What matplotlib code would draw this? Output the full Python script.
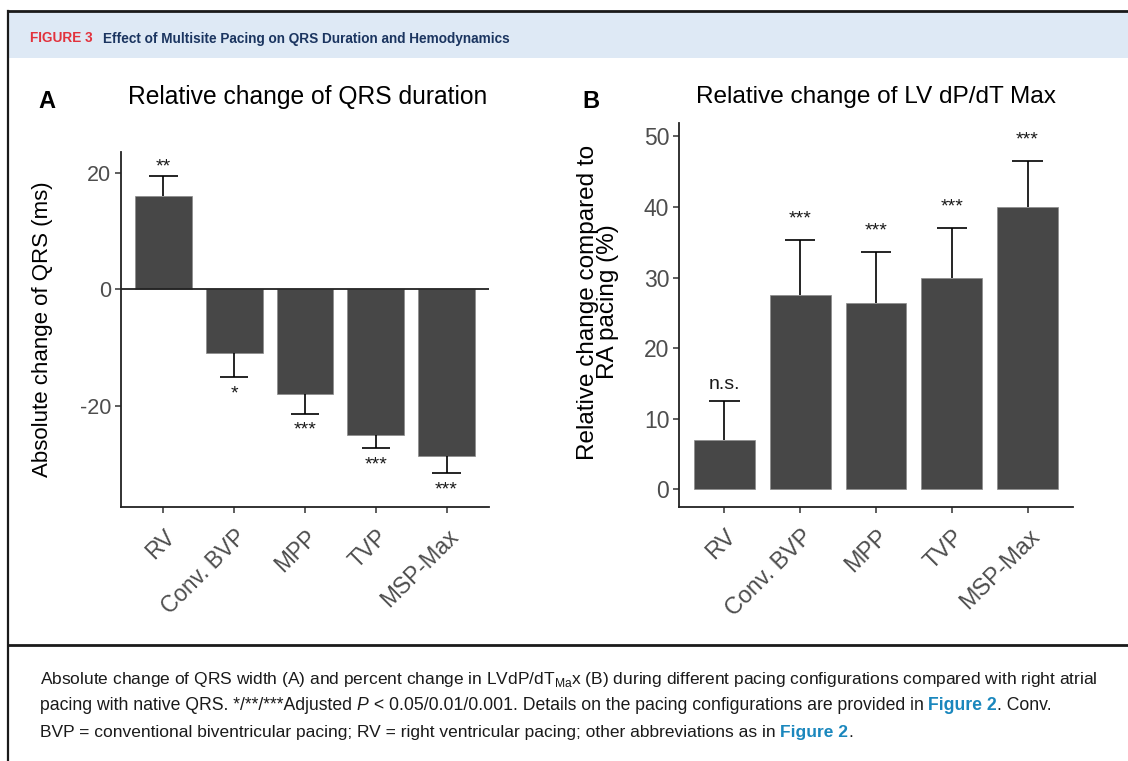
import matplotlib
matplotlib.use("Agg")
import matplotlib.pyplot as plt
from matplotlib.patches import Rectangle
from matplotlib.lines import Line2D

plt.rcParams["axes.unicode_minus"] = False

# ---- data -------------------------------------------------------------
categories = ["RV", "Conv. BVP", "MPP", "TVP", "MSP-Max"]

qrs_change = [16.0, -11.0, -18.0, -25.0, -28.7]      # ms
qrs_err = [3.4, 4.1, 3.4, 2.3, 2.9]                  # ms
qrs_sig = ["**", "*", "***", "***", "***"]

dpdt_change = [7.0, 27.5, 26.4, 30.0, 40.0]           # %
dpdt_err = [5.5, 7.8, 7.2, 7.0, 6.5]                  # %
dpdt_sig = ["n.s.", "***", "***", "***", "***"]

qrs_ticks = [-20, 0, 20]
dpdt_ticks = [0, 10, 20, 30, 40, 50]

# ---- figure -----------------------------------------------------------
W, H = 1128, 761
fig = plt.figure(figsize=(W / 100, H / 100), dpi=100)
fig.patch.set_facecolor("white")

PLOT_FONT = "Liberation Sans"
TEXT_FONT = ["Liberation Sans Narrow", "Liberation Sans"]
BAR = "#474747"
TICK_GRAY = "#4d4d4d"


def fx(x):
    return x / W


def fy(y):
    return 1 - y / H


def frame_axes(left, top, right, bottom):
    return fig.add_axes([fx(left), fy(bottom), fx(right - left), (bottom - top) / H])


# frame, header band and caption separator
fig.add_artist(Rectangle((fx(8), fy(58)), fx(1128 - 8), (58 - 12) / H,
                         transform=fig.transFigure, facecolor="#dee9f5",
                         edgecolor="none", zorder=0))
for xs, ys, lw in [((8, 1128), (11, 11), 2.0), ((8, 8), (11, 761), 1.6),
                   ((8, 1128), (645, 645), 2.0)]:
    fig.add_artist(Line2D([fx(xs[0]), fx(xs[1])], [fy(ys[0]), fy(ys[1])],
                          transform=fig.transFigure, color="#1a1a1a", lw=lw))

renderer = fig.canvas.get_renderer()


def text_run(pieces, x0, y, size, target_w=None, family=TEXT_FONT):
    """Draw a run of styled text pieces left to right, optionally scaled to a width."""
    def draw(sz):
        arts = []
        x = x0
        for s, kw in pieces:
            t = fig.text(fx(x), fy(y), s, fontsize=sz, family=family,
                         va="center_baseline", ha="left", **kw)
            bb = t.get_window_extent(renderer)
            x += bb.width
            arts.append(t)
        return arts, x - x0
    arts, w = draw(size)
    if target_w is not None:
        for a in arts:
            a.remove()
        arts, w = draw(size * target_w / w)
    return arts, x0 + w


# header
_, end = text_run([("FIGURE 3", dict(color="#e2323c", weight="bold"))], 30, 37, 9.8)
text_run([("Effect of Multisite Pacing on QRS Duration and Hemodynamics",
           dict(color="#1b3560", weight="bold"))], end + 10, 37, 9.8)

# caption
blue = dict(color="#1a87bd", weight="bold")
black = dict(color="#1a1a1a")
text_run([("Absolute change of QRS width (A) and percent change in LVdP/dT$_{\\mathregular{Ma}}$x (B) "
           "during different pacing configurations compared with right atrial", black)],
         40, 677, 11, 1056)
text_run([("pacing with native QRS. */**/***Adjusted ", black),
          ("P", dict(color="#1a1a1a", style="italic")),
          (" < 0.05/0.01/0.001. Details on the pacing configurations are provided in ", black),
          ("Figure 2", blue), (". Conv.", black)],
         40, 704, 11, 1006)
text_run([("BVP = conventional biventricular pacing; RV = right ventricular pacing; "
           "other abbreviations as in ", black),
          ("Figure 2", blue), (".", black)],
         40, 731, 11, 808)


# ---- panels ------------------------------------------------------------
def style_axes(ax, ticks, ysize, xsize):
    for side in ("top", "right"):
        ax.spines[side].set_visible(False)
    for side in ("left", "bottom"):
        ax.spines[side].set_linewidth(1.3)
        ax.spines[side].set_color("#222222")
    ax.set_yticks(ticks)
    ax.set_xticks(range(1, len(categories) + 1))
    ax.set_xticklabels(categories, rotation=45, ha="right", va="top",
                       rotation_mode="anchor")
    ax.tick_params(length=4, width=1.1, color="#333333", labelcolor=TICK_GRAY, pad=3)
    ax.tick_params(axis="y", labelsize=ysize)
    ax.tick_params(axis="x", labelsize=xsize, pad=9)
    for lab in ax.get_xticklabels() + ax.get_yticklabels():
        lab.set_family(PLOT_FONT)
    ax.set_xlim(0.4, 5.6)
    ax.set_facecolor("none")


def bars_with_errors(ax, values, errs, labels, up_pts, down_pts, text_up_pts):
    xs = range(1, len(values) + 1)
    ax.bar(xs, values, width=0.8, color=BAR, edgecolor="#8a8a8a", linewidth=0.5, zorder=2)
    for x, v, e, lab in zip(xs, values, errs, labels):
        end = v + e if v >= 0 else v - e
        ax.plot([x, x], [v, end], color="black", lw=1.2, zorder=3, solid_capstyle="butt")
        ax.plot([x - 0.2, x + 0.2], [end, end], color="black", lw=1.2, zorder=3,
                solid_capstyle="butt")
        if not lab.startswith("*"):
            off = text_up_pts
        else:
            off = up_pts if v >= 0 else down_pts
        ax.annotate(lab, xy=(x, end), xytext=(0, off), textcoords="offset points",
                    ha="center", va="baseline", fontsize=14, family=PLOT_FONT,
                    color="#1a1a1a")


# A: QRS duration
axA = frame_axes(121, 152, 489, 507)
style_axes(axA, qrs_ticks, 15.5, 16.3)
axA.set_ylim(-37.4, 23.6)
axA.axhline(0, color="#222222", lw=1.3, zorder=4)
bars_with_errors(axA, qrs_change, qrs_err, qrs_sig, 3.6, -15, 3.6)

# B: LV dP/dT max
axB = frame_axes(679, 123, 1073, 507)
style_axes(axB, dpdt_ticks, 16.5, 16.8)
axB.set_ylim(-2.5, 51.9)
bars_with_errors(axB, dpdt_change, dpdt_err, dpdt_sig, 12.2, -15, 8.6)

# panel letters, titles and axis titles
fig.text(fx(47), fy(101), "A", fontsize=17, weight="bold", family=PLOT_FONT,
         ha="center", va="center")
fig.text(fx(591), fy(101), "B", fontsize=17, weight="bold", family=PLOT_FONT,
         ha="center", va="center")
fig.text(fx(308), fy(97), "Relative change of QRS duration", fontsize=17.7,
         family=PLOT_FONT, ha="center", va="center")
fig.text(fx(876), fy(97), "Relative change of LV dP/dT Max", fontsize=17.6,
         family=PLOT_FONT, ha="center", va="center")
fig.text(fx(43), fy(329), "Absolute change of QRS (ms)", fontsize=16,
         family=PLOT_FONT, rotation=90, ha="center", va="center")
fig.text(fx(598), fy(302), "Relative change compared to\nRA pacing (%)", fontsize=17.5,
         family=PLOT_FONT, rotation=90, ha="center", va="center", linespacing=0.92)

fig.savefig("out.png", dpi=100)
